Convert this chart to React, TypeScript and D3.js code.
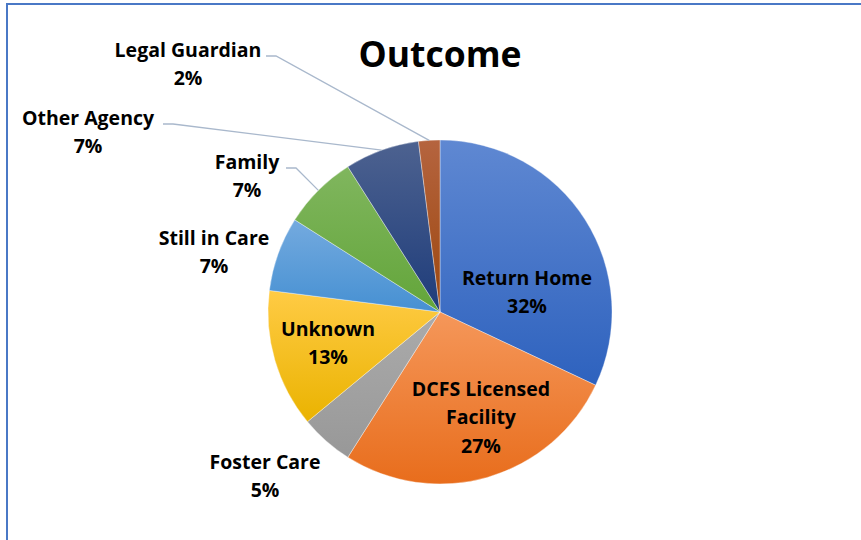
import React from "react";
import * as d3 from "d3";

const categories = ["Return Home", "DCFS Licensed Facility", "Foster Care", "Unknown", "Still in Care", "Family", "Other Agency", "Legal Guardian"];
const values = [32, 27, 5, 13, 7, 7, 7, 2];
const labelLines = [["Return Home"], ["DCFS Licensed", "Facility"], ["Foster Care"], ["Unknown"], ["Still in Care"], ["Family"], ["Other Agency"], ["Legal Guardian"]];
const colorTop = ["#5F88D2", "#F5975A", "#ABABAB", "#FFCB45", "#74AADF", "#80B65E", "#4D6290", "#B5643F"];
const colorBottom = ["#2E62BE", "#E86D1C", "#989898", "#EAB300", "#4690D2", "#63A53A", "#1E3C7A", "#9C470E"];

// label layout (centre of first line), leader: has leader line
const labelPos: Record<string, { x: number; y: number; leader?: [number, number] }> = {
  "Return Home": { x: 527, y: 277 },
  "DCFS Licensed Facility": { x: 481, y: 388 },
  "Foster Care": { x: 265, y: 461 },
  "Unknown": { x: 328, y: 328 },
  "Still in Care": { x: 214, y: 237 },
  "Family": { x: 247, y: 161, leader: [286, 168] },
  "Other Agency": { x: 88, y: 117, leader: [163, 124] },
  "Legal Guardian": { x: 188, y: 49, leader: [266, 56] },
};

const W = 861, H = 540;
const cx = 440, cy = 312, R = 172;
const lineH = 28.5;
const font = "'Open Sans', Lato, sans-serif";

export default function App() {
  const pie = d3.pie<number>().sort(null).value((d) => d);
  const arcs = pie(values);
  const arc = d3.arc<d3.PieArcDatum<number>>().innerRadius(0).outerRadius(R);
  const total = d3.sum(values);
  const fmt = d3.format(".0%");
  return (
    <div style={{ position: "absolute", left: 0, top: 0 }}>
      <svg width={W} height={H} style={{ display: "block" }}>
        <defs>
          {categories.map((c, i) => (
            <linearGradient key={c} id={`g${i}`} x1="0" y1="0" x2="0" y2="1">
              <stop offset="0" stopColor={colorTop[i]} />
              <stop offset="1" stopColor={colorBottom[i]} />
            </linearGradient>
          ))}
        </defs>
        <rect x={0} y={0} width={W} height={H} fill="#fff" />
        <path d={`M7,${H} V4 H${W}`} fill="none" stroke="#4A78C6" strokeWidth={2} />
        <text x={cx} y={67} textAnchor="middle" fontFamily={font} fontWeight={700} fontSize={35.5} fill="#000">Outcome</text>
        <g transform={`translate(${cx},${cy})`}>
          {arcs.map((a, i) => (
            <path key={i} d={arc(a) || ""} fill={`url(#g${i})`} stroke="#fff" strokeOpacity={0.6} strokeWidth={0.6} />
          ))}
        </g>
        {arcs.map((a, i) => {
          const c = categories[i];
          const p = labelPos[c];
          if (!p.leader) return null;
          const mid = (a.startAngle + a.endAngle) / 2;
          const ex = cx + R * Math.sin(mid);
          const ey = cy - R * Math.cos(mid);
          const [lx, ly] = p.leader;
          return (
            <polyline key={c} points={`${lx},${ly} ${lx + 10},${ly} ${ex},${ey}`} fill="none" stroke="#A9B8CC" strokeWidth={1.3} />
          );
        })}
        {categories.map((c, i) => {
          const p = labelPos[c];
          const lines = [...labelLines[i], fmt(values[i] / total)];
          return (
            <text key={c} textAnchor="middle" fontFamily={font} fontWeight={700} fontSize={19.5} fill="#000">
              {lines.map((l, j) => (
                <tspan key={j} x={p.x} y={p.y + j * lineH} dominantBaseline="central">{l}</tspan>
              ))}
            </text>
          );
        })}
      </svg>
    </div>
  );
}
